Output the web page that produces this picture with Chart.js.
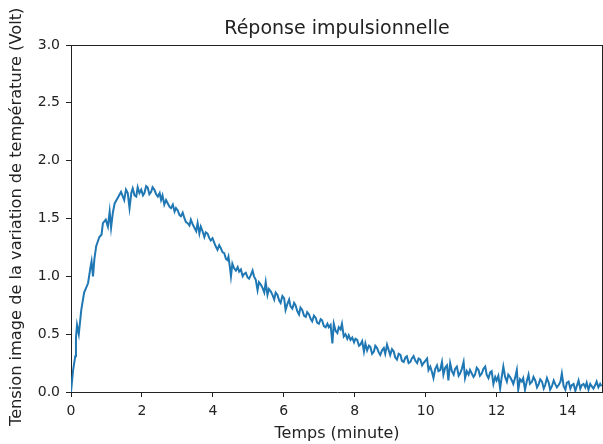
<!DOCTYPE html>
<html>
<head>
<meta charset="utf-8">
<script src="https://cdn.jsdelivr.net/npm/chart.js@4"></script>
<style>
  html, body { margin: 0; padding: 0; background: #fff; }
  canvas { display: block; }
</style>
</head>
<body>
<canvas id="reponseChart" width="603" height="444"></canvas>
<script>
// Réponse impulsionnelle
const temps = [
  0.00, 0.06, 0.12, 0.14, 0.17, 0.22, 0.29, 0.37, 0.48, 0.55, 0.58, 0.62, 0.66, 0.71, 0.80, 0.86, 0.90, 0.98,
  1.04, 1.09, 1.13, 1.18, 1.23, 1.32, 1.41, 1.50, 1.55, 1.60, 1.65, 1.70, 1.74, 1.79, 1.84, 1.88, 1.93, 1.98,
  2.03, 2.07, 2.12, 2.16, 2.21, 2.26, 2.30, 2.35, 2.40, 2.45, 2.50, 2.54, 2.58, 2.63, 2.68, 2.73, 2.78, 2.82,
  2.87, 2.92, 2.96, 3.01, 3.06, 3.10, 3.15, 3.20, 3.24, 3.29, 3.34, 3.38, 3.43, 3.48, 3.53, 3.57, 3.62, 3.66,
  3.71, 3.76, 3.80, 3.85, 3.90, 3.94, 3.99, 4.04, 4.08, 4.13, 4.18, 4.23, 4.27, 4.32, 4.37, 4.41, 4.44, 4.48,
  4.51, 4.55, 4.60, 4.65, 4.70, 4.74, 4.79, 4.84, 4.88, 4.93, 4.98, 5.02, 5.07, 5.12, 5.16, 5.21, 5.26, 5.30,
  5.35, 5.40, 5.45, 5.49, 5.54, 5.58, 5.63, 5.68, 5.73, 5.77, 5.82, 5.87, 5.91, 5.96, 6.01, 6.05, 6.10, 6.15,
  6.19, 6.24, 6.29, 6.33, 6.38, 6.43, 6.47, 6.52, 6.57, 6.62, 6.66, 6.71, 6.76, 6.80, 6.85, 6.90, 6.94, 6.99,
  7.04, 7.08, 7.13, 7.18, 7.23, 7.27, 7.32, 7.37, 7.41, 7.46, 7.51, 7.55, 7.60, 7.64, 7.69, 7.74, 7.79, 7.83,
  7.88, 7.93, 7.98, 8.02, 8.07, 8.12, 8.16, 8.21, 8.26, 8.30, 8.35, 8.40, 8.44, 8.49, 8.54, 8.58, 8.63, 8.68,
  8.72, 8.77, 8.82, 8.86, 8.91, 8.96, 9.00, 9.05, 9.10, 9.14, 9.19, 9.24, 9.29, 9.33, 9.38, 9.43, 9.47, 9.52,
  9.57, 9.61, 9.66, 9.71, 9.76, 9.80, 9.85, 9.90, 9.94, 9.99, 10.04, 10.08, 10.13, 10.18, 10.22, 10.27, 10.32, 10.36,
  10.41, 10.46, 10.50, 10.55, 10.60, 10.64, 10.69, 10.74, 10.79, 10.83, 10.88, 10.93, 10.97, 11.02, 11.07, 11.11, 11.16, 11.21,
  11.25, 11.30, 11.35, 11.39, 11.44, 11.49, 11.53, 11.58, 11.63, 11.68, 11.72, 11.77, 11.82, 11.86, 11.91, 11.96, 12.00, 12.05,
  12.10, 12.14, 12.19, 12.24, 12.29, 12.33, 12.38, 12.43, 12.47, 12.52, 12.57, 12.61, 12.66, 12.71, 12.75, 12.80, 12.85, 12.90,
  12.94, 13.00, 13.04, 13.09, 13.14, 13.19, 13.23, 13.28, 13.33, 13.37, 13.42, 13.47, 13.51, 13.56, 13.61, 13.65, 13.70, 13.75,
  13.80, 13.84, 13.89, 13.94, 13.98, 14.03, 14.08, 14.12, 14.17, 14.22, 14.26, 14.31, 14.36, 14.40, 14.45, 14.50, 14.54, 14.59,
  14.64, 14.68, 14.73, 14.78, 14.82, 14.87, 14.92, 14.96
];

const tension = [
  0.00, 0.19, 0.31, 0.47, 0.58, 0.50, 0.71, 0.86, 0.94, 1.08, 1.13, 1.00, 1.15, 1.26, 1.34, 1.36, 1.46, 1.49,
  1.43, 1.56, 1.42, 1.55, 1.63, 1.68, 1.73, 1.66, 1.75, 1.72, 1.59, 1.72, 1.76, 1.70, 1.69, 1.77, 1.72, 1.75,
  1.70, 1.72, 1.78, 1.77, 1.71, 1.73, 1.77, 1.75, 1.71, 1.69, 1.72, 1.66, 1.70, 1.62, 1.66, 1.63, 1.60, 1.59,
  1.62, 1.56, 1.59, 1.57, 1.53, 1.52, 1.55, 1.50, 1.47, 1.46, 1.44, 1.49, 1.45, 1.42, 1.39, 1.46, 1.37, 1.43,
  1.39, 1.34, 1.38, 1.37, 1.33, 1.31, 1.33, 1.29, 1.26, 1.23, 1.27, 1.24, 1.21, 1.20, 1.15, 1.14, 1.17, 1.08,
  1.00, 1.11, 1.07, 1.05, 1.08, 1.04, 1.06, 1.00, 1.02, 1.03, 0.99, 0.98, 1.01, 1.05, 1.00, 0.97, 0.88, 0.95,
  0.93, 0.90, 0.86, 0.95, 0.84, 0.89, 0.87, 0.84, 0.80, 0.86, 0.84, 0.79, 0.77, 0.83, 0.81, 0.71, 0.76, 0.80,
  0.74, 0.72, 0.77, 0.75, 0.70, 0.67, 0.73, 0.71, 0.66, 0.65, 0.69, 0.67, 0.63, 0.61, 0.66, 0.64, 0.60, 0.59,
  0.63, 0.62, 0.57, 0.56, 0.59, 0.56, 0.58, 0.42, 0.59, 0.53, 0.51, 0.56, 0.54, 0.59, 0.48, 0.50, 0.46, 0.49,
  0.45, 0.47, 0.43, 0.46, 0.45, 0.40, 0.41, 0.44, 0.35, 0.42, 0.36, 0.40, 0.39, 0.33, 0.35, 0.40, 0.38, 0.34,
  0.32, 0.36, 0.38, 0.33, 0.41, 0.36, 0.32, 0.37, 0.35, 0.30, 0.28, 0.33, 0.32, 0.27, 0.26, 0.30, 0.31, 0.25,
  0.26, 0.29, 0.31, 0.27, 0.25, 0.29, 0.28, 0.23, 0.25, 0.27, 0.29, 0.19, 0.22, 0.17, 0.12, 0.20, 0.23, 0.18,
  0.19, 0.26, 0.15, 0.21, 0.23, 0.10, 0.25, 0.18, 0.15, 0.20, 0.22, 0.14, 0.16, 0.20, 0.26, 0.12, 0.18, 0.15,
  0.19, 0.16, 0.13, 0.15, 0.21, 0.19, 0.14, 0.16, 0.20, 0.22, 0.15, 0.12, 0.17, 0.18, 0.07, 0.13, 0.10, 0.14,
  0.03, 0.12, 0.22, 0.13, 0.09, 0.15, 0.13, 0.10, 0.07, 0.12, 0.19, 0.02, 0.11, 0.09, 0.12, 0.02, 0.09, 0.15,
  0.07, 0.09, 0.13, 0.10, 0.04, 0.07, 0.11, 0.09, 0.03, 0.06, 0.12, 0.08, 0.02, 0.05, 0.10, 0.07, 0.04, 0.06,
  0.09, 0.16, 0.05, 0.02, 0.08, 0.09, 0.03, 0.06, 0.07, 0.01, 0.05, 0.10, 0.03, 0.06, 0.07, 0.04, 0.08, 0.02,
  0.07, 0.05, 0.03, 0.06, 0.09, 0.04, 0.07, 0.05
];

const xTicks = [0, 2, 4, 6, 8, 10, 12, 14];
const yTicks = [0, 0.5, 1.0, 1.5, 2.0, 2.5, 3.0];

const FONT = 'DejaVu Sans';
const INK = '#222';
const TITLE = 'Réponse impulsionnelle';
const Y_LABEL = 'Tension image de la variation de température (Volt)';

// matplotlib-style frame, title centred over the axes, and the y label anchored at its bottom
const axesDecor = {
  id: 'axesDecor',
  afterDraw(chart) {
    const { ctx, chartArea: a } = chart;
    ctx.save();
    ctx.strokeStyle = INK;
    ctx.lineWidth = 1;
    ctx.beginPath();
    ctx.moveTo(a.left, a.top + 0.5);
    ctx.lineTo(a.right, a.top + 0.5);
    ctx.moveTo(a.right - 0.5, a.top);
    ctx.lineTo(a.right - 0.5, a.bottom);
    ctx.stroke();

    ctx.fillStyle = INK;
    ctx.font = `19px "${FONT}"`;
    ctx.textAlign = 'center';
    ctx.textBaseline = 'middle';
    ctx.fillText(TITLE, (a.left + a.right) / 2, 29);

    ctx.font = `16.2px "${FONT}"`;
    ctx.translate(17, 426);
    ctx.rotate(-Math.PI / 2);
    ctx.textAlign = 'left';
    ctx.fillText(Y_LABEL, 0, 0);
    ctx.restore();
  }
};

new Chart(document.getElementById('reponseChart'), {
  type: 'line',
  data: {
    datasets: [{
      data: temps.map((t, i) => ({ x: t, y: tension[i] })),
      borderColor: '#1f77b4',
      borderWidth: 2,
      pointRadius: 0,
      tension: 0,
      fill: false
    }]
  },
  options: {
    responsive: false,
    animation: false,
    layout: { padding: { left: 0, right: 0, top: 45, bottom: 0 } },
    plugins: {
      legend: { display: false },
      tooltip: { enabled: false },
      title: { display: false }
    },
    scales: {
      x: {
        type: 'linear',
        min: 0,
        max: 15,
        afterFit: s => { s.height = 52; },
        afterBuildTicks: s => { s.ticks = xTicks.map(v => ({ value: v })); },
        border: { display: true, color: INK, width: 1 },
        grid: { drawOnChartArea: false, drawTicks: true, tickLength: 5, tickColor: INK },
        ticks: {
          color: INK,
          font: { family: FONT, size: 14 },
          padding: 6,
          maxRotation: 0,
          callback: v => String(v)
        },
        title: {
          display: true,
          text: 'Temps (minute)',
          color: INK,
          font: { family: FONT, size: 16 },
          padding: { top: 0, bottom: 1 }
        }
      },
      y: {
        type: 'linear',
        min: 0,
        max: 3,
        afterFit: s => { s.width = 71; },
        afterBuildTicks: s => { s.ticks = yTicks.map(v => ({ value: v })); },
        border: { display: true, color: INK, width: 1 },
        grid: { drawOnChartArea: false, drawTicks: true, tickLength: 5, tickColor: INK },
        ticks: {
          color: INK,
          font: { family: FONT, size: 14 },
          padding: 6,
          callback: v => Number(v).toFixed(1)
        }
      }
    }
  },
  plugins: [axesDecor]
});
</script>
</body>
</html>
